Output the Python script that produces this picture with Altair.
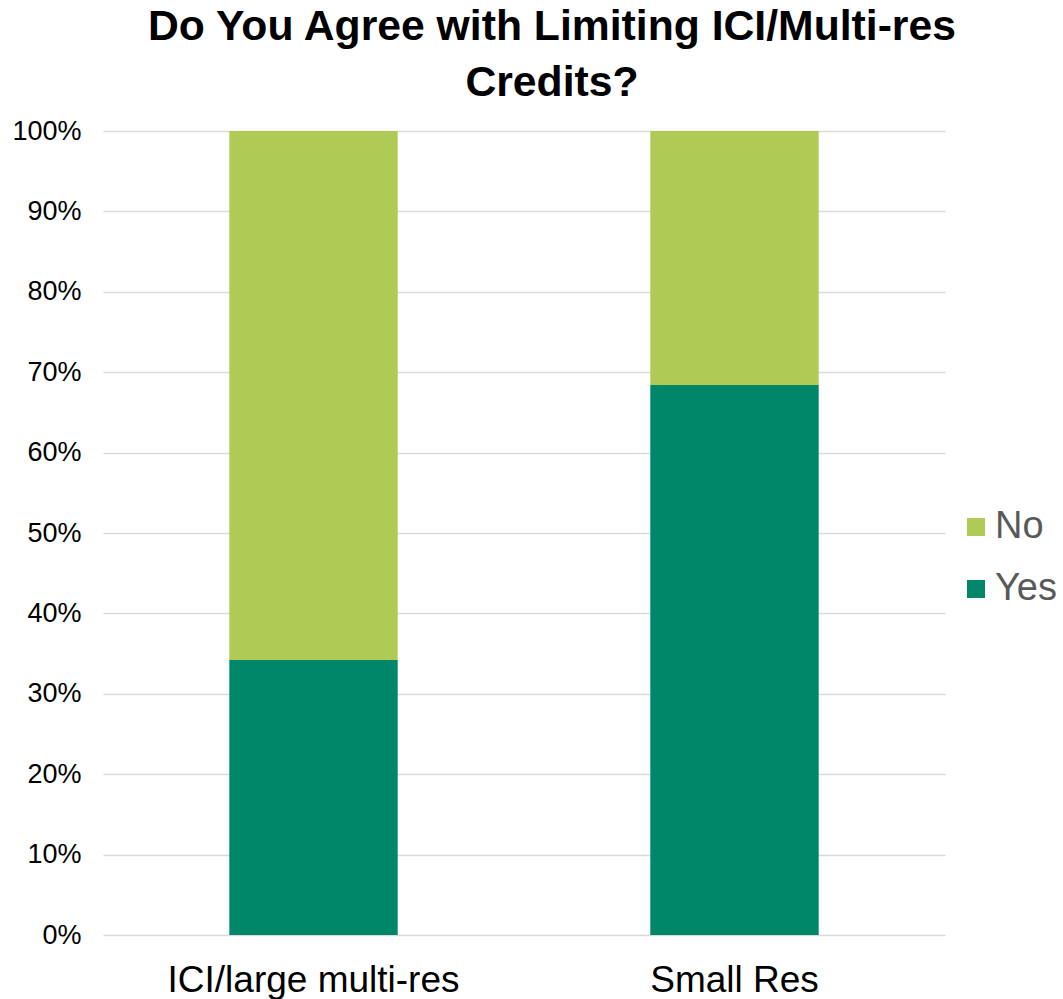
import altair as alt
import pandas as pd

categories = ["ICI/large multi-res", "Small Res"]
yes_share = [0.342, 0.684]
no_share = [0.658, 0.316]
responses = ["No", "Yes"]
colors = ["#AFCB56", "#00876A"]

rows = []
for c, y, n in zip(categories, yes_share, no_share):
    rows.append({"category": c, "response": "Yes", "share": y, "ord": 0})
    rows.append({"category": c, "response": "No", "share": n, "ord": 1})
df = pd.DataFrame(rows)

FONT = "Liberation Sans"

chart = alt.Chart(df).mark_bar().encode(
    x=alt.X("category:N", sort=categories,
            scale=alt.Scale(paddingInner=0.6, paddingOuter=0.3),
            axis=alt.Axis(title=None, labelAngle=0, labelFontSize=37, labelColor="#000000",
                          labelFont=FONT, labelPadding=27, labelLimit=0, ticks=False, domain=False)),
    y=alt.Y("share:Q", stack="zero",
            scale=alt.Scale(domain=[0, 1]),
            axis=alt.Axis(title=None, format=".0%", values=[i / 10 for i in range(11)],
                          labelFontSize=27, labelColor="#000000", labelFont=FONT,
                          labelPadding=22, ticks=False, domain=False,
                          gridColor="#d9d9d9", gridWidth=1.5)),
    color=alt.Color("response:N", sort=responses,
                    scale=alt.Scale(domain=responses, range=colors),
                    legend=alt.Legend(title=None, orient="none", legendX=854, legendY=377,
                                      symbolType="square", symbolSize=324, symbolStrokeWidth=0,
                                      labelFontSize=38, labelFont=FONT, labelColor="#595959",
                                      labelOffset=0, rowPadding=24, padding=0)),
    order=alt.Order("ord:Q"),
).properties(
    width=842,
    height=804,
    title=alt.Title(["Do You Agree with Limiting ICI/Multi-res", "Credits?"],
                    fontSize=42.7, font=FONT, fontWeight="bold", color="#000000",
                    anchor="middle", dx=28, lineHeight=56, offset=12),
    autosize=alt.AutoSizeParams(type="none"),
    padding={"left": 103, "top": 131, "right": 118, "bottom": 64},
).configure_view(stroke=None)

chart.save("out.html", embed_options={"renderer": "svg", "actions": False})
